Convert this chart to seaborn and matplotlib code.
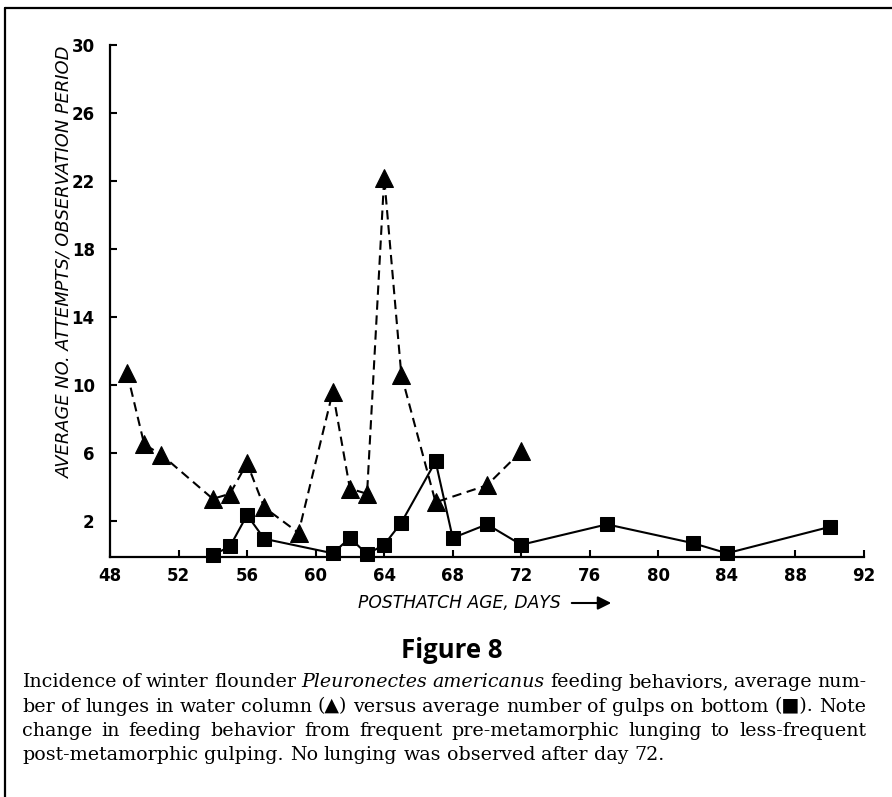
import matplotlib
matplotlib.use("Agg")
import matplotlib.pyplot as plt
from matplotlib.lines import Line2D
import seaborn as sns
import pandas as pd

# ---- data ----
lunge_days = [49, 50, 51, 54, 55, 56, 57, 59, 61, 62, 63, 64, 65, 67, 70, 72]
lunge_vals = [10.7, 6.5, 5.9, 3.3, 3.6, 5.4, 2.8, 1.3, 9.6, 3.9, 3.6, 22.2, 10.6, 3.1, 4.1, 6.1]

gulp_days = [54, 55, 56, 57, 61, 62, 63, 64, 65, 67, 68, 70, 72, 77, 82, 84, 90]
gulp_vals = [0.0, 0.5, 2.35, 0.95, 0.1, 1.0, 0.05, 0.6, 1.9, 5.5, 1.0, 1.8, 0.6, 1.8, 0.7, 0.1, 1.65]

x_ticks = [48, 52, 56, 60, 64, 68, 72, 76, 80, 84, 88, 92]
y_ticks = [2, 6, 10, 14, 18, 22, 26, 30]

y_label = "AVERAGE NO. ATTEMPTS/ OBSERVATION PERIOD"
x_label = "POSTHATCH AGE, DAYS"
title = "Figure 8"
caption_lines = [
    [("Incidence", "n"), ("of", "n"), ("winter", "n"), ("flounder", "n"), ("Pleuronectes", "i"),
     ("americanus", "i"), ("feeding", "n"), ("behaviors,", "n"), ("average", "n"), ("num-", "n")],
    [("ber", "n"), ("of", "n"), ("lunges", "n"), ("in", "n"), ("water", "n"), ("column", "n"),
     ("(\u25B2)", "n"), ("versus", "n"), ("average", "n"), ("number", "n"), ("of", "n"),
     ("gulps", "n"), ("on", "n"), ("bottom", "n"), ("(\u25A0).", "n"), ("Note", "n")],
    [("change", "n"), ("in", "n"), ("feeding", "n"), ("behavior", "n"), ("from", "n"),
     ("frequent", "n"), ("pre-metamorphic", "n"), ("lunging", "n"), ("to", "n"), ("less-frequent", "n")],
    [("post-metamorphic", "n"), ("gulping.", "n"), ("No", "n"), ("lunging", "n"), ("was", "n"),
     ("observed", "n"), ("after", "n"), ("day", "n"), ("72.", "n")],
]

W, H = 892, 797
sns.set_style("ticks")
plt.rcParams["font.family"] = ["DejaVu Sans"]
plt.rcParams["text.color"] = "black"
plt.rcParams["xtick.color"] = "black"
plt.rcParams["ytick.color"] = "black"

fig = plt.figure(figsize=(W / 100, H / 100), dpi=100)
fig.patch.set_facecolor("white")

ax = fig.add_axes([110 / W, 1 - 557 / H, 754 / W, 512 / H])
ax.set_facecolor("white")

lunge_df = pd.DataFrame({"day": lunge_days, "val": lunge_vals})
gulp_df = pd.DataFrame({"day": gulp_days, "val": gulp_vals})

sns.lineplot(data=lunge_df, x="day", y="val", ax=ax, color="black", marker="^",
             markersize=13, markeredgecolor="black", linewidth=1.5,
             linestyle=(0, (4.5, 2.7)), clip_on=False, zorder=3)
sns.lineplot(data=gulp_df, x="day", y="val", ax=ax, color="black", marker="s",
             markersize=10.5, markeredgecolor="black", linewidth=1.5,
             linestyle="-", clip_on=False, zorder=4)

ax.set_xlim(48, 92)
ax.set_ylim(-0.12, 30)
ax.set_xticks(x_ticks)
ax.set_yticks(y_ticks)
ax.set_xticklabels([str(t) for t in x_ticks])
ax.set_yticklabels([str(t) for t in y_ticks])
ax.set_xlabel("")
ax.set_ylabel("")
sns.despine(ax=ax)
for s in ("left", "bottom"):
    ax.spines[s].set_linewidth(1.6)
    ax.spines[s].set_color("black")
ax.tick_params(axis="both", direction="in", length=5, width=1.5, colors="black",
               labelsize=12, labelcolor="black")
ax.tick_params(axis="y", pad=11)
ax.tick_params(axis="x", pad=7)
for lab in ax.get_xticklabels() + ax.get_yticklabels():
    lab.set_fontweight("bold")

# axis labels
fig.text(64 / W, 1 - 262 / H, y_label, rotation=90, ha="center", va="center",
         style="italic", fontsize=12.9, color="black")
fig.text(358 / W, 1 - 603 / H, x_label, ha="left", va="center",
         style="italic", fontsize=12.3, color="black")
ax.annotate("", xy=(614 / W, 1 - 603 / H), xytext=(569 / W, 1 - 603 / H),
            xycoords="figure fraction", textcoords="figure fraction",
            arrowprops=dict(arrowstyle="-|>", color="black", lw=1.5, mutation_scale=20))

# title
fig.text(452 / W, 1 - 650 / H, title, ha="center", va="center", color="black",
         fontfamily=["Open Sans", "DejaVu Sans"], fontweight="bold", fontsize=18.5)

# justified caption
renderer = fig.canvas.get_renderer()
cap_left, cap_right = 22, 866
baselines = [687, 711.5, 735.5, 760]
cap_size = 13.7
fams = ["DejaVu Serif", "DejaVu Sans"]
space_t = fig.text(0, 0, "a a", fontsize=cap_size, fontfamily=fams)
aa_t = fig.text(0, 0, "aa", fontsize=cap_size, fontfamily=fams)
space_w = space_t.get_window_extent(renderer).width - aa_t.get_window_extent(renderer).width
space_t.remove()
aa_t.remove()
for i, (words, yb) in enumerate(zip(caption_lines, baselines)):
    texts = []
    for w, st in words:
        t = fig.text(0, 1 - yb / H, w, fontsize=cap_size, fontfamily=fams,
                     style="italic" if st == "i" else "normal", va="baseline", ha="left",
                     color="black")
        texts.append(t)
    widths = [t.get_window_extent(renderer).width for t in texts]
    if i < len(caption_lines) - 1:
        gap = (cap_right - cap_left - sum(widths)) / (len(texts) - 1)
    else:
        gap = space_w
    x = cap_left
    for t, wd in zip(texts, widths):
        t.set_x(x / W)
        x += wd + gap

# border lines (page frame)
fig.add_artist(Line2D([5 / W, 1], [1 - 8 / H, 1 - 8 / H], transform=fig.transFigure,
                      color="black", lw=1.6))
fig.add_artist(Line2D([5 / W, 5 / W], [0, 1 - 8 / H], transform=fig.transFigure,
                      color="black", lw=1.6))

fig.savefig("out.png", dpi=100, facecolor="white")
